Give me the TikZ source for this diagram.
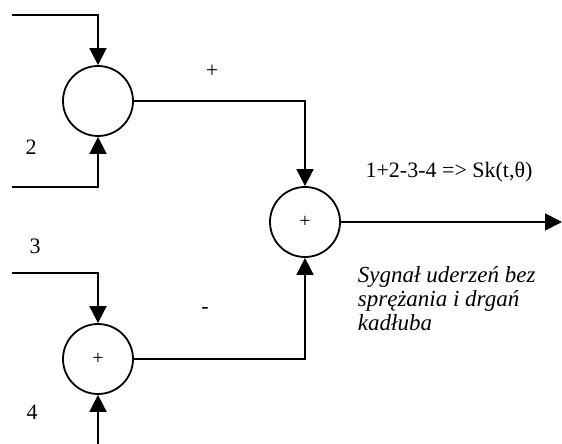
\documentclass[tikz,border=0pt]{standalone}
\usepackage{fontspec}
\setmainfont{Liberation Serif}
\usetikzlibrary{arrows.meta}

\begin{document}
\begin{tikzpicture}[x=0.5pt,y=-0.5pt,>={Triangle[length=8.5pt,width=8.5pt]},line width=0.9pt,
  sumnode/.style={circle,draw,minimum size=35pt,inner sep=0pt,font=\fontsize{10}{11}\selectfont},
  lbl/.style={font=\fontsize{11}{12}\selectfont}]
\useasboundingbox (0,0) rectangle (562,444);
% summing junctions
\node[sumnode] (sumA) at (98,101) {};
\node[sumnode] (sumB) at (98,359) {+};
\node[sumnode] (sumC) at (305,222) {+};
% free ends
\coordinate (in1) at (12,15);
\coordinate (in2) at (12,187);
\coordinate (in3) at (12,273);
\coordinate (in4) at (98,444);
\coordinate (out) at (562,222);
% connectors
\draw[->] (in1) -| (sumA.north);
\draw[->] (in2) -| (sumA.south);
\draw[->] (in3) -| (sumB.north);
\draw[->] (in4) -- (sumB.south);
\draw[->] (sumA.east) -| (sumC.north);
\draw[->] (sumB.east) -| (sumC.south);
\draw[->] (sumC.east) -- (out);
% labels
\node[lbl] (l2) at (31,147) {2};
\node[lbl] (l3) at (35,246) {3};
\node[lbl] (l4) at (32,412) {4};
\node[lbl] (sgnA) at (212,71) {+};
\node[lbl] (sgnB) at (205,310) {-};
\node[lbl] (res) at (449,172) {1+2-3-4 => Sk(t,θ)};
\node[lbl,anchor=north west,align=left,inner sep=0pt,font=\fontsize{11.5}{12}\selectfont\itshape] (desc) at (357,266) {Sygnał uderzeń bez\\sprężania i drgań\\kadłuba};
\end{tikzpicture}
\end{document}
